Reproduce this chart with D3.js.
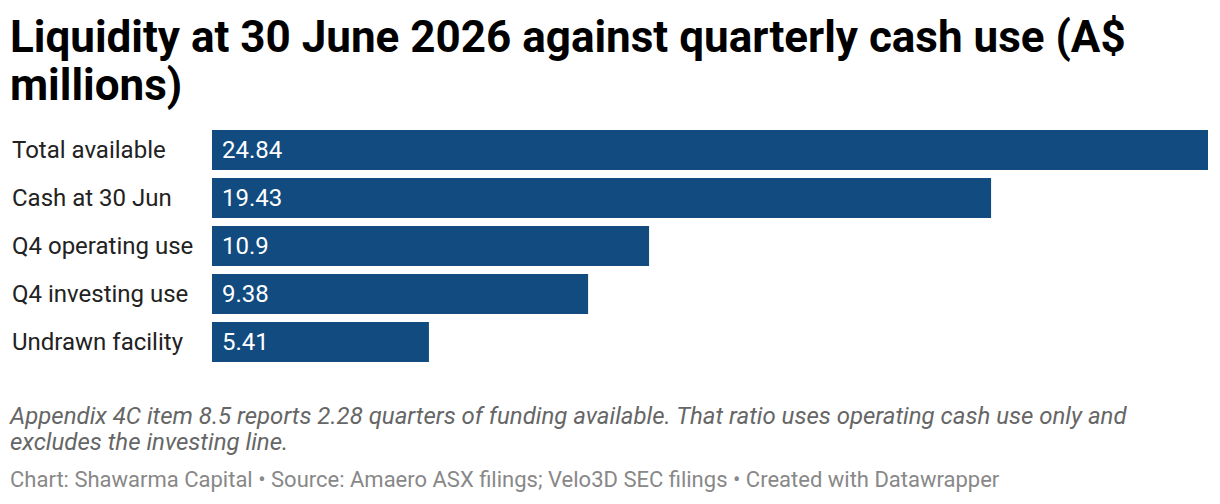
<!DOCTYPE html>
<html>
<head>
<meta charset="utf-8">
<script src="https://cdn.jsdelivr.net/npm/d3@7"></script>
<style>
  body { margin: 0; background: #fff; font-family: Roboto, sans-serif; }
  svg { display: block; }
</style>
</head>
<body>
<script>
// Chart data
let categories = ["Total available", "Cash at 30 Jun", "Q4 operating use", "Q4 investing use", "Undrawn facility"];
let values = [24.84, 19.43, 10.9, 9.38, 5.41];
let valueLabels = ["24.84", "19.43", "10.9", "9.38", "5.41"];

let titleLines = ["Liquidity at 30 June 2026 against quarterly cash use (A$", "millions)"];
let noteLines = [
    "Appendix 4C item 8.5 reports 2.28 quarters of funding available. That ratio uses operating cash use only and",
    "excludes the investing line."
];
let credit = "Chart: Shawarma Capital \u2022 Source: Amaero ASX filings; Velo3D SEC filings \u2022 Created with Datawrapper";

let width = 1220, height = 504;
let barLeft = 212, barRight = 1208;
let barTop = 130, barStep = 48, barGap = 8;

let svg = d3.select("body")
    .append("svg")
    .attr("width", width)
    .attr("height", height);

// Title
svg.append("g")
    .selectAll("text")
    .data(titleLines)
    .enter()
    .append("text")
    .attr("x", 10)
    .attr("y", (_, i) => 52 + i * 48)
    .style("font-size", "44px")
    .style("font-weight", "bold")
    .style("fill", "#000")
    .text(d => d);

// Scales
let x = d3.scaleLinear()
    .domain([0, d3.max(values)])
    .range([barLeft, barRight]);

let y = d3.scaleBand()
    .domain(categories)
    .range([barTop, barTop + categories.length * barStep - barGap])
    .paddingInner(barGap / barStep)
    .paddingOuter(0);

let rows = svg.append("g")
    .selectAll(".row")
    .data(categories.map((c, i) => ({ name: c, value: values[i], label: valueLabels[i] })))
    .enter()
    .append("g")
    .attr("class", "row");

rows.append("rect")
    .attr("x", x(0))
    .attr("y", d => y(d.name))
    .attr("width", d => x(d.value) - x(0))
    .attr("height", y.bandwidth())
    .style("fill", "#114b80");

rows.append("text")
    .attr("x", 12)
    .attr("y", d => y(d.name) + y.bandwidth() / 2)
    .attr("dy", "0.35em")
    .style("font-size", "24px")
    .style("fill", "#222")
    .text(d => d.name);

rows.append("text")
    .attr("x", x(0) + 10)
    .attr("y", d => y(d.name) + y.bandwidth() / 2)
    .attr("dy", "0.35em")
    .style("font-size", "24px")
    .style("fill", "#fff")
    .text(d => d.label);

// Notes
svg.append("g")
    .selectAll("text")
    .data(noteLines)
    .enter()
    .append("text")
    .attr("x", 10)
    .attr("y", (_, i) => 424 + i * 26)
    .style("font-size", "24px")
    .style("font-style", "italic")
    .style("fill", "#666")
    .text(d => d);

svg.append("text")
    .attr("x", 10)
    .attr("y", 487)
    .style("font-size", "22px")
    .style("fill", "#888")
    .text(credit);
</script>
</body>
</html>
